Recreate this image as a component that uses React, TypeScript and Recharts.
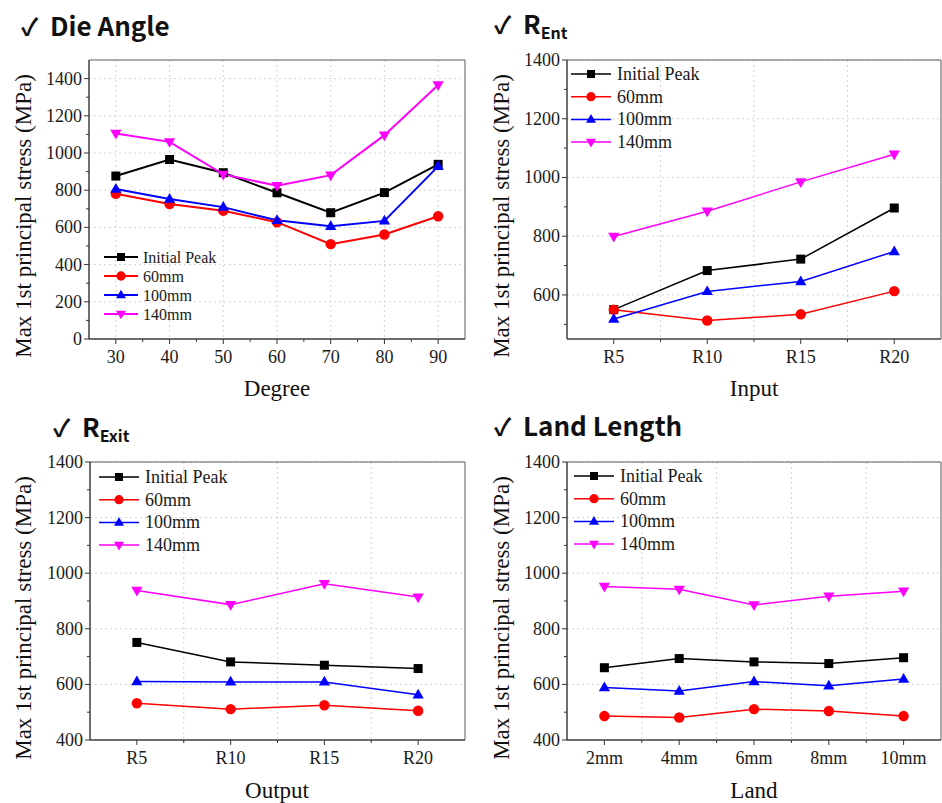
import {
  LineChart,
  Line,
  XAxis,
  YAxis,
  CartesianGrid,
  Legend,
  ReferenceArea,
} from "recharts";

// Die angle
const degrees = [30, 40, 50, 60, 70, 80, 90];
const angleInitial = [876, 965, 894, 786, 679, 787, 939];
const angle60 = [781, 726, 690, 628, 510, 562, 660];
const angle100 = [806, 753, 709, 638, 606, 635, 928];
const angle140 = [1105, 1060, 885, 824, 881, 1096, 1366];

// R entrance
const entCats = ["R5", "R10", "R15", "R20"];
const entInitial = [550, 683, 722, 896];
const ent60 = [550, 513, 534, 613];
const ent100 = [518, 612, 646, 748];
const ent140 = [799, 885, 985, 1079];

// R exit
const exitCats = ["R5", "R10", "R15", "R20"];
const exitInitial = [751, 681, 669, 657];
const exit60 = [532, 511, 525, 505];
const exit100 = [610, 609, 609, 563];
const exit140 = [938, 887, 962, 914];

// land length
const landCats = ["2mm", "4mm", "6mm", "8mm", "10mm"];
const landInitial = [660, 693, 681, 675, 696];
const land60 = [486, 481, 511, 504, 486];
const land100 = [589, 576, 610, 595, 619];
const land140 = [952, 942, 886, 917, 935];

const series = [
  { key: "init", name: "Initial Peak", color: "#000000", shape: "square" },
  { key: "mm60", name: "60mm", color: "#ff0000", shape: "circle" },
  { key: "mm100", name: "100mm", color: "#0000ff", shape: "up" },
  { key: "mm140", name: "140mm", color: "#ff00ff", shape: "down" },
];

const SERIF = "'Liberation Serif', 'Times New Roman', serif";
const SANS = "'Noto Sans CJK KR', 'Noto Sans', sans-serif";
const YLABEL = "Max 1st principal stress (MPa)";

const makeRows = (xs: number[], a: number[], b: number[], c: number[], d: number[]) =>
  xs.map((x, i) => ({ x, init: a[i], mm60: b[i], mm100: c[i], mm140: d[i] }));

const range = (from: number, to: number, step: number) => {
  const out: number[] = [];
  for (let v = from; v <= to + 1e-9; v += step) out.push(v);
  return out;
};

const Marker = ({ cx, cy, shape, color, s }: any) => {
  if (cx == null || cy == null) return null;
  if (shape === "square")
    return <rect x={cx - s / 2} y={cy - s / 2} width={s} height={s} fill={color} />;
  if (shape === "circle") return <circle cx={cx} cy={cy} r={s * 0.58} fill={color} />;
  const w = s * 1.25;
  const h = s * 1.08;
  if (shape === "up")
    return (
      <polygon
        points={`${cx},${cy - h * 0.62} ${cx - w / 2},${cy + h * 0.38} ${cx + w / 2},${cy + h * 0.38}`}
        fill={color}
      />
    );
  return (
    <polygon
      points={`${cx},${cy + h * 0.62} ${cx - w / 2},${cy - h * 0.38} ${cx + w / 2},${cy - h * 0.38}`}
      fill={color}
    />
  );
};

type PanelProps = {
  left: number;
  top: number;
  width: number;
  height: number;
  margin: { top: number; right: number; bottom: number; left: number };
  rows: any[];
  xDomain: [number, number];
  xMajor: number[];
  xMinor: number[];
  xFormat: (v: number) => string;
  xGrid: number[];
  yDomain: [number, number];
  yMajor: number[];
  yMinor: number[];
  lineW: number;
  mark: number;
  legend: { x: number; y: number; gap: number; font: number; len: number; text: number; mark: number };
};

const Panel = (p: PanelProps) => {
  const xTicks = [...p.xMajor, ...p.xMinor].sort((a, b) => a - b);
  const yTicks = [...p.yMajor, ...p.yMinor].sort((a, b) => a - b);

  const yTick = (t: any) => {
    const v = t.payload.value;
    const major = p.yMajor.includes(v);
    return (
      <g>
        <line x1={t.x} x2={t.x - (major ? 5 : 3)} y1={t.y} y2={t.y} stroke="#333" strokeWidth={1} />
        {major && (
          <text
            x={t.x - 7}
            y={t.y}
            textAnchor="end"
            dominantBaseline="central"
            fontFamily={SERIF}
            fontSize={18}
            fill="#1a1a1a"
          >
            {v}
          </text>
        )}
      </g>
    );
  };

  const xTick = (t: any) => {
    const v = t.payload.value;
    const major = p.xMajor.includes(v);
    return (
      <g>
        <line x1={t.x} x2={t.x} y1={t.y} y2={t.y + (major ? 5 : 3)} stroke="#333" strokeWidth={1} />
        {major && (
          <text x={t.x} y={t.y + 24} textAnchor="middle" fontFamily={SERIF} fontSize={18} fill="#1a1a1a">
            {p.xFormat(v)}
          </text>
        )}
      </g>
    );
  };

  const lg = p.legend;
  const legendBox = () => (
    <svg width={170} height={lg.gap * 4 + 10}>
      {series.map((s, i) => {
        const y = 10 + i * lg.gap;
        return (
          <g key={s.key}>
            <line x1={2} x2={2 + lg.len} y1={y} y2={y} stroke={s.color} strokeWidth={p.lineW} />
            <Marker cx={2 + lg.len / 2} cy={y} shape={s.shape} color={s.color} s={lg.mark} />
            <text
              x={2 + lg.text}
              y={y}
              dominantBaseline="central"
              fontFamily={SERIF}
              fontSize={lg.font}
              fill="#1a1a1a"
            >
              {s.name}
            </text>
          </g>
        );
      })}
    </svg>
  );

  return (
    <div style={{ position: "absolute", left: p.left, top: p.top }}>
      <LineChart width={p.width} height={p.height} data={p.rows} margin={p.margin}>
        <CartesianGrid
          stroke="#d4d4d4"
          strokeDasharray="2 3"
          horizontalValues={p.yMajor}
          verticalValues={p.xGrid}
        />
        <XAxis
          dataKey="x"
          type="number"
          domain={p.xDomain}
          ticks={xTicks}
          interval={0}
          allowDataOverflow
          height={40}
          tickSize={0}
          tickMargin={0}
          tickLine={false}
          stroke="#333"
          tick={xTick}
        />
        <YAxis
          type="number"
          domain={p.yDomain}
          ticks={yTicks}
          interval={0}
          allowDataOverflow
          width={60}
          tickSize={0}
          tickMargin={0}
          tickLine={false}
          stroke="#333"
          tick={yTick}
        />
        <ReferenceArea
          x1={p.xDomain[0]}
          x2={p.xDomain[1]}
          y1={p.yDomain[0]}
          y2={p.yDomain[1]}
          fill="none"
          stroke="#5a5a5a"
          strokeWidth={1}
        />
        <Legend
          layout="vertical"
          align="center"
          verticalAlign="middle"
          wrapperStyle={{ left: lg.x, top: lg.y, width: 170 }}
          content={legendBox}
        />
        {series.map((s) => (
          <Line
            key={s.key}
            dataKey={s.key}
            name={s.name}
            stroke={s.color}
            strokeWidth={p.lineW}
            isAnimationActive={false}
            dot={(d: any) => (
              <Marker key={`${s.key}-${d.index}`} cx={d.cx} cy={d.cy} shape={s.shape} color={s.color} s={p.mark} />
            )}
            activeDot={false}
          />
        ))}
      </LineChart>
    </div>
  );
};

const idx = (cats: string[]) => cats.map((_, i) => i + 1);

const Title = ({ x, y, main, sub }: { x: number; y: number; main: string; sub?: string }) => (
  <g fontFamily={SANS} fontWeight={700} fill="#111">
    <text x={x} y={y} fontSize={24}>
      ✓
    </text>
    <text x={x + 29} y={y} fontSize={26}>
      {main}
      {sub && (
        <tspan fontSize={16} dy={5}>
          {sub}
        </tspan>
      )}
    </text>
  </g>
);

const YTitle = ({ x, y }: { x: number; y: number }) => (
  <text
    x={x}
    y={y}
    transform={`rotate(-90 ${x} ${y})`}
    textAnchor="middle"
    dominantBaseline="central"
    fontFamily={SERIF}
    fontSize={23}
    fill="#111"
  >
    {YLABEL}
  </text>
);

const XTitle = ({ x, y, label }: { x: number; y: number; label: string }) => (
  <text x={x} y={y} textAnchor="middle" fontFamily={SERIF} fontSize={23} fill="#111">
    {label}
  </text>
);

export default function App() {
  const entIdx = idx(entCats);
  const exitIdx = idx(exitCats);
  const landIdx = idx(landCats);
  const mids = (n: number) => range(1.5, n - 0.5, 1);

  return (
    <div style={{ position: "absolute", left: 0, top: 0, width: 942, height: 803, background: "#fff" }}>
      <svg width={942} height={803} style={{ position: "absolute", left: 0, top: 0 }}>
        <Title x={21} y={36} main="Die Angle" />
        <Title x={494} y={34} main="R" sub="Ent" />
        <Title x={53} y={437} main="R" sub="Exit" />
        <Title x={494} y={436} main="Land Length" />
        <YTitle x={23} y={216} />
        <YTitle x={501} y={216} />
        <YTitle x={23} y={618} />
        <YTitle x={501} y={618} />
        <XTitle x={277} y={396} label="Degree" />
        <XTitle x={754} y={396} label="Input" />
        <XTitle x={277} y={798} label="Output" />
        <XTitle x={754} y={798} label="Land" />
      </svg>

      <Panel
        left={0}
        top={0}
        width={471}
        height={400}
        margin={{ top: 60, right: 6, bottom: 21, left: 29 }}
        rows={makeRows(degrees, angleInitial, angle60, angle100, angle140)}
        xDomain={[25, 95]}
        xMajor={degrees}
        xMinor={range(35, 85, 10)}
        xFormat={(v) => String(v)}
        xGrid={degrees}
        yDomain={[0, 1500]}
        yMajor={range(0, 1400, 200)}
        yMinor={range(100, 1300, 200)}
        lineW={2}
        mark={9}
        legend={{ x: 102, y: 247, gap: 19, font: 16, len: 34, text: 39, mark: 8 }}
      />

      <Panel
        left={471}
        top={0}
        width={471}
        height={400}
        margin={{ top: 60, right: 1, bottom: 21, left: 36 }}
        rows={makeRows(entIdx, entInitial, ent60, ent100, ent140)}
        xDomain={[0.5, entCats.length + 0.5]}
        xMajor={entIdx}
        xMinor={mids(entCats.length)}
        xFormat={(v) => entCats[v - 1]}
        xGrid={mids(entCats.length)}
        yDomain={[450, 1400]}
        yMajor={range(600, 1400, 200)}
        yMinor={range(500, 1300, 200)}
        lineW={1.5}
        mark={9}
        legend={{ x: 98, y: 64, gap: 22.7, font: 18, len: 40, text: 46, mark: 8 }}
      />

      <Panel
        left={0}
        top={400}
        width={471}
        height={403}
        margin={{ top: 62, right: 6, bottom: 23, left: 30 }}
        rows={makeRows(exitIdx, exitInitial, exit60, exit100, exit140)}
        xDomain={[0.5, exitCats.length + 0.5]}
        xMajor={exitIdx}
        xMinor={mids(exitCats.length)}
        xFormat={(v) => exitCats[v - 1]}
        xGrid={mids(exitCats.length)}
        yDomain={[400, 1400]}
        yMajor={range(400, 1400, 200)}
        yMinor={range(500, 1300, 200)}
        lineW={1.5}
        mark={9}
        legend={{ x: 97, y: 67, gap: 22.7, font: 18, len: 40, text: 46, mark: 8 }}
      />

      <Panel
        left={471}
        top={400}
        width={471}
        height={403}
        margin={{ top: 62, right: 1, bottom: 23, left: 36 }}
        rows={makeRows(landIdx, landInitial, land60, land100, land140)}
        xDomain={[0.5, landCats.length + 0.5]}
        xMajor={landIdx}
        xMinor={mids(landCats.length)}
        xFormat={(v) => landCats[v - 1]}
        xGrid={mids(landCats.length)}
        yDomain={[400, 1400]}
        yMajor={range(400, 1400, 200)}
        yMinor={range(500, 1300, 200)}
        lineW={1.5}
        mark={9}
        legend={{ x: 101, y: 66, gap: 22.7, font: 18, len: 40, text: 46, mark: 8 }}
      />
    </div>
  );
}
